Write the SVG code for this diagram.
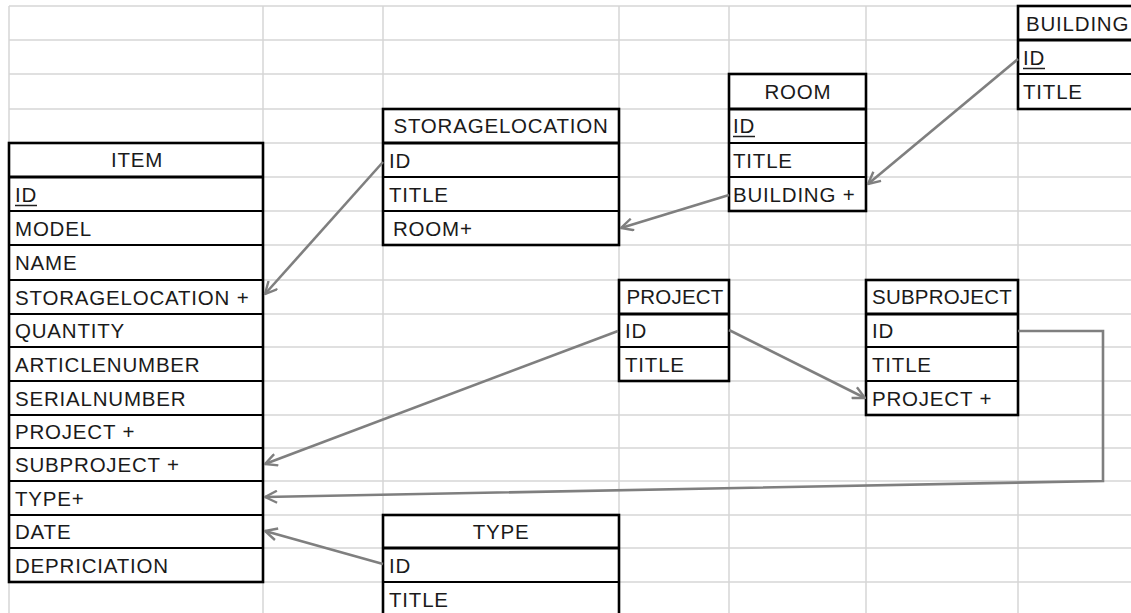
<svg xmlns="http://www.w3.org/2000/svg" width="1131" height="613" viewBox="0 0 1131 613">
<style>
.grid line{stroke:#d6d6d6;stroke-width:1.5}
.tb{fill:#fff;stroke:#000;stroke-width:2.6}
.hd{stroke:#000;stroke-width:3}
.rw{stroke:#000;stroke-width:1.8}
.ul{stroke:#1e1e1e;stroke-width:1.5}
text{font-family:"Liberation Sans",Arial,sans-serif;font-size:20.5px;letter-spacing:0.8px;fill:#1a1a1a}
.h{text-anchor:middle}
.tight{letter-spacing:0.2px}
.conn path{fill:none;stroke:#7f7f7f;stroke-width:2.6}
</style>
<defs>
<marker id="arr" viewBox="0 0 14 14" refX="13" refY="7" markerWidth="14" markerHeight="14" markerUnits="userSpaceOnUse" orient="auto">
<path d="M1,1 L13,7 L1,13" fill="none" stroke="#7f7f7f" stroke-width="2.4"/>
</marker>
</defs>
<rect width="1131" height="613" fill="#fff"/>
<g class="grid">
<line x1="9" y1="6" x2="1131" y2="6"/><line x1="9" y1="40" x2="1131" y2="40"/><line x1="9" y1="74" x2="1131" y2="74"/><line x1="9" y1="109" x2="1131" y2="109"/><line x1="9" y1="143" x2="1131" y2="143"/><line x1="9" y1="177" x2="1131" y2="177"/><line x1="9" y1="211" x2="1131" y2="211"/><line x1="9" y1="245" x2="1131" y2="245"/><line x1="9" y1="280" x2="1131" y2="280"/><line x1="9" y1="314" x2="1131" y2="314"/><line x1="9" y1="347" x2="1131" y2="347"/><line x1="9" y1="381" x2="1131" y2="381"/><line x1="9" y1="415" x2="1131" y2="415"/><line x1="9" y1="448" x2="1131" y2="448"/><line x1="9" y1="481" x2="1131" y2="481"/><line x1="9" y1="515" x2="1131" y2="515"/><line x1="9" y1="548" x2="1131" y2="548"/><line x1="9" y1="582" x2="1131" y2="582"/>
<line x1="9" y1="6" x2="9" y2="613"/><line x1="263" y1="6" x2="263" y2="613"/><line x1="383" y1="6" x2="383" y2="613"/><line x1="619" y1="6" x2="619" y2="613"/><line x1="729" y1="6" x2="729" y2="613"/><line x1="866" y1="6" x2="866" y2="613"/><line x1="1018" y1="6" x2="1018" y2="613"/>
</g>
<g id="item">
<rect class="tb" x="9" y="143" width="254" height="439"/>
<line class="hd" x1="9" y1="177" x2="263" y2="177"/>
<line class="rw" x1="9" y1="211" x2="263" y2="211"/><line class="rw" x1="9" y1="245" x2="263" y2="245"/><line class="rw" x1="9" y1="280" x2="263" y2="280"/><line class="rw" x1="9" y1="314" x2="263" y2="314"/><line class="rw" x1="9" y1="347" x2="263" y2="347"/><line class="rw" x1="9" y1="381" x2="263" y2="381"/><line class="rw" x1="9" y1="415" x2="263" y2="415"/><line class="rw" x1="9" y1="448" x2="263" y2="448"/><line class="rw" x1="9" y1="481" x2="263" y2="481"/><line class="rw" x1="9" y1="515" x2="263" y2="515"/><line class="rw" x1="9" y1="548" x2="263" y2="548"/>
<text class="h" x="137" y="167">ITEM</text>
<text x="15" y="202">ID</text><line class="ul" x1="15" y1="205.5" x2="37" y2="205.5"/>
<text x="15" y="236">MODEL</text>
<text x="15" y="270">NAME</text>
<text x="15" y="305">STORAGELOCATION +</text>
<text x="15" y="338">QUANTITY</text>
<text x="15" y="372">ARTICLENUMBER</text>
<text x="15" y="406">SERIALNUMBER</text>
<text x="15" y="439">PROJECT +</text>
<text x="15" y="472">SUBPROJECT +</text>
<text x="15" y="506">TYPE+</text>
<text x="15" y="539">DATE</text>
<text x="15" y="573">DEPRICIATION</text>
</g>
<g id="storagelocation">
<rect class="tb" x="383" y="109" width="236" height="136"/>
<line class="hd" x1="383" y1="143" x2="619" y2="143"/>
<line class="rw" x1="383" y1="177" x2="619" y2="177"/><line class="rw" x1="383" y1="211" x2="619" y2="211"/>
<text class="h" x="501" y="133">STORAGELOCATION</text>
<text x="389" y="168">ID</text>
<text x="389" y="202">TITLE</text>
<text x="393" y="236">ROOM+</text>
</g>
<g id="room">
<rect class="tb" x="729" y="74" width="137" height="137"/>
<line class="hd" x1="729" y1="109" x2="866" y2="109"/>
<line class="rw" x1="729" y1="143" x2="866" y2="143"/><line class="rw" x1="729" y1="177" x2="866" y2="177"/>
<text class="h" x="798" y="99">ROOM</text>
<text x="733" y="133">ID</text><line class="ul" x1="733" y1="136.5" x2="755" y2="136.5"/>
<text x="733" y="168">TITLE</text>
<text x="733" y="202">BUILDING +</text>
</g>
<g id="building">
<rect class="tb" x="1018" y="6" width="130" height="103"/>
<line class="hd" x1="1018" y1="40" x2="1131" y2="40"/>
<line class="rw" x1="1018" y1="74" x2="1131" y2="74"/>
<text x="1026" y="31">BUILDING</text>
<text x="1023" y="65">ID</text><line class="ul" x1="1023" y1="68.5" x2="1045" y2="68.5"/>
<text x="1023" y="99">TITLE</text>
</g>
<g id="project">
<rect class="tb" x="619" y="280" width="110" height="101"/>
<line class="hd" x1="619" y1="314" x2="729" y2="314"/>
<line class="rw" x1="619" y1="347" x2="729" y2="347"/>
<text class="h tight" x="675" y="304">PROJECT</text>
<text x="625" y="338">ID</text>
<text x="625" y="372">TITLE</text>
</g>
<g id="subproject">
<rect class="tb" x="866" y="280" width="152" height="135"/>
<line class="hd" x1="866" y1="314" x2="1018" y2="314"/>
<line class="rw" x1="866" y1="347" x2="1018" y2="347"/><line class="rw" x1="866" y1="381" x2="1018" y2="381"/>
<text class="h tight" x="942" y="304">SUBPROJECT</text>
<text x="872" y="338">ID</text>
<text x="872" y="372">TITLE</text>
<text x="872" y="406">PROJECT +</text>
</g>
<g id="type">
<rect class="tb" x="383" y="515" width="236" height="110"/>
<line class="hd" x1="383" y1="548" x2="619" y2="548"/>
<line class="rw" x1="383" y1="582" x2="619" y2="582"/>
<text class="h" x="501" y="539">TYPE</text>
<text x="389" y="573">ID</text>
<text x="389" y="607">TITLE</text>
</g>
<g class="conn">
<path d="M383,162 L265,294" marker-end="url(#arr)"/>
<path d="M729,195 L621,228" marker-end="url(#arr)"/>
<path d="M1018,59 L868,184" marker-end="url(#arr)"/>
<path d="M618,331 L265,464" marker-end="url(#arr)"/>
<path d="M729,330 L865,398" marker-end="url(#arr)"/>
<path d="M1018,331 L1103,331 L1103,481 L265,497" marker-end="url(#arr)"/>
<path d="M383,564 L265,531" marker-end="url(#arr)"/>
</g>
</svg>
